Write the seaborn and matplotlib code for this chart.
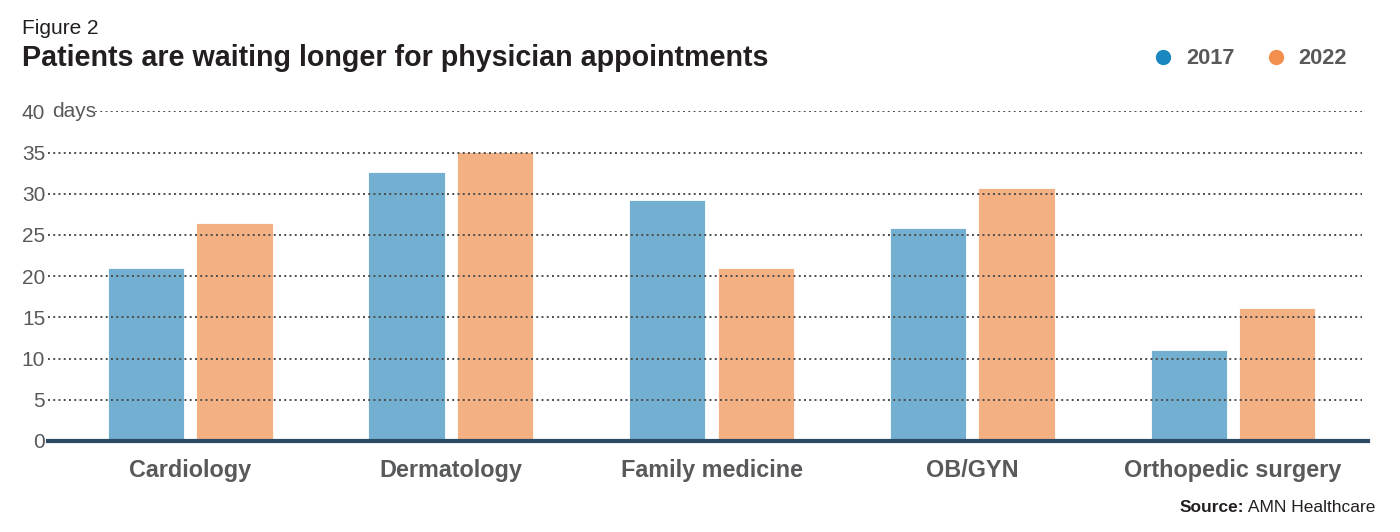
import seaborn as sns
import matplotlib.pyplot as plt
import pandas as pd
from matplotlib.lines import Line2D

# data (days of wait)
specialties = ["Cardiology", "Dermatology", "Family medicine", "OB/GYN", "Orthopedic surgery"]
years = ["2017", "2022"]
wait_2017 = [21.0, 32.6, 29.2, 25.9, 11.1]
wait_2022 = [26.4, 35.1, 21.0, 30.7, 16.1]
y_ticks = [0, 5, 10, 15, 20, 25, 30, 35, 40]

df = pd.DataFrame({
    "specialty": specialties * 2,
    "year": [years[0]] * 5 + [years[1]] * 5,
    "days": wait_2017 + wait_2022,
})

sns.set_style("white")
plt.rcParams["font.family"] = ["Liberation Sans", "DejaVu Sans"]

bar_colors = {"2017": "#72afd0", "2022": "#f3b083"}
dot_colors = {"2017": "#1a87c0", "2022": "#f28f4d"}
gray = "#58595b"

fig = plt.figure(figsize=(14, 5.32), dpi=100)
ax = fig.add_axes([48 / 1400, 1 - 441 / 532, 1320 / 1400, (441 - 111.3) / 532])

sns.barplot(data=df, x="specialty", y="days", hue="year", palette=bar_colors,
            saturation=1, width=0.68, gap=0.14, ax=ax, legend=False, zorder=1)
for p in ax.patches:
    p.set_edgecolor("white")
    p.set_linewidth(0.6)

ax.set_xlim(-0.545, 4.518)
ax.set_ylim(0, 40)

# dotted gridlines over the bars
for t in y_ticks[1:]:
    start = 0.0356 if t == 40 else 0.0
    ax.axhline(t, xmin=start, xmax=0.9955, color="#4d4d4d",
               linestyle=(0, (1, 1.7)), linewidth=1.4, zorder=3)

ax.set_yticks(y_ticks)
ax.set_yticklabels([str(t) for t in y_ticks], fontsize=15, color=gray)
ax.text(0.003, 40, "days", transform=ax.get_yaxis_transform(), ha="left", va="center",
        fontsize=15, color=gray)
ax.tick_params(axis="y", length=0, pad=2)
ax.tick_params(axis="x", length=0, pad=13)
for lbl in ax.get_xticklabels():
    lbl.set_fontsize(16.8)
    lbl.set_fontweight("bold")
    lbl.set_color(gray)

ax.set_xlabel("")
ax.set_ylabel("")
for s in ["top", "right", "left"]:
    ax.spines[s].set_visible(False)
ax.spines["bottom"].set_color("#2c4a63")
ax.spines["bottom"].set_linewidth(3)
ax.spines["bottom"].set_zorder(4)

fig.text(22 / 1400, 1 - 29 / 532, "Figure 2", fontsize=15, color="#231f20", va="center")
fig.text(22 / 1400, 1 - 58 / 532, "Patients are waiting longer for physician appointments",
         fontsize=20.6, fontweight="bold", color="#231f20", va="center")

handles = [Line2D([], [], marker="o", linestyle="", markersize=10,
                  markerfacecolor=dot_colors[y], markeredgecolor=dot_colors[y]) for y in years]
leg = fig.legend(handles, years, loc="center right", bbox_to_anchor=(1347 / 1400, 1 - 59 / 532),
                 ncol=2, frameon=False, handlelength=1.0, handletextpad=0.55,
                 columnspacing=1.38, borderpad=0, borderaxespad=0,
                 prop={"size": 15.7, "weight": "bold"})
for t in leg.get_texts():
    t.set_color(gray)

src = fig.text(1375 / 1400, 1 - 508 / 532, " AMN Healthcare", fontsize=12.5, color="#231f20",
               ha="right", va="center")
fig.canvas.draw()
bb = src.get_window_extent()
fig.text(bb.x0 / 1400, 1 - 508 / 532, "Source:", fontsize=12.5, fontweight="bold",
         color="#231f20", ha="right", va="center")

fig.savefig("out.png", dpi=100)
